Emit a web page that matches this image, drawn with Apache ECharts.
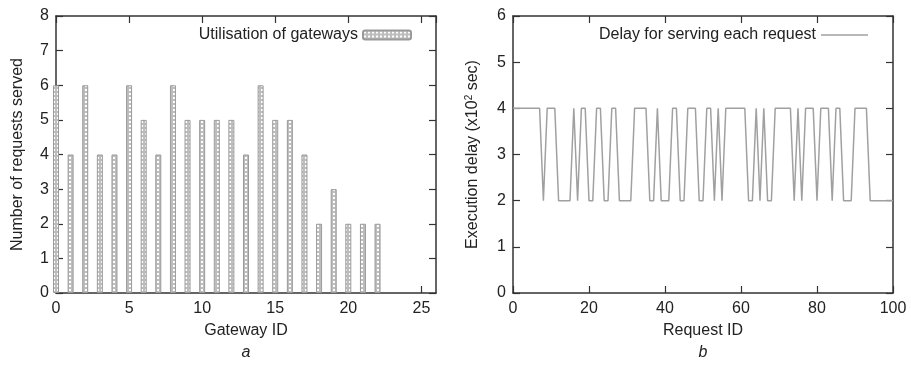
<!DOCTYPE html>
<html>
<head>
<meta charset="utf-8">
<script src="https://cdn.jsdelivr.net/npm/echarts@6/dist/echarts.min.js"></script>
<style>
  html, body { margin: 0; padding: 0; background: #fff; }
  #main { width: 911px; height: 365px; }
</style>
</head>
<body>
<div id="main"></div>
<script>
// requests served by each gateway (gateway id = index)
const gatewayRequests = [6, 4, 6, 4, 4, 6, 5, 4, 6, 5, 5, 5, 5, 4, 6, 5, 5, 4, 2, 3, 2, 2, 2];
// execution delay (x10^2 sec) for request ids 0..100
const requestDelays = [
  4, 4, 4, 4, 4, 4, 4, 4, 2, 4, 4, 4, 2, 2, 2, 2, 4, 2, 4, 4,
  2, 2, 4, 4, 2, 2, 4, 4, 2, 2, 2, 2, 4, 4, 4, 4, 2, 2, 4, 2,
  2, 2, 4, 4, 2, 2, 4, 4, 4, 2, 2, 4, 4, 2, 4, 2, 4, 4, 4, 4,
  4, 4, 2, 2, 4, 2, 4, 2, 2, 4, 4, 4, 4, 4, 2, 4, 2, 4, 4, 4,
  2, 4, 4, 4, 2, 4, 4, 2, 2, 2, 4, 4, 4, 4, 2, 2, 2, 2, 2, 2,
  2
];
const leftTicks = { min: 0, max: 26, interval: 5 };
const leftYTicks = { min: 0, max: 8, interval: 1 };
const rightTicks = { min: 0, max: 100, interval: 20 };
const rightYTicks = { min: 0, max: 6, interval: 1 };

const FONT = 'Liberation Sans';
const TXT = '#222';
const AXIS = '#333';

// little dotted fill, close to the gnuplot pattern
const pat = document.createElement('canvas');
pat.width = 4; pat.height = 4;
const pc = pat.getContext('2d');
pc.fillStyle = '#bdbdbd';
pc.fillRect(0, 0, 4, 4);
pc.fillStyle = '#fff';
pc.fillRect(1, 1, 2, 2);

function xAx(grid, r, pos, name) {
  return {
    type: 'value', gridIndex: grid, position: pos,
    min: r.min, max: r.max, interval: r.interval,
    name: name, nameLocation: 'middle', nameGap: 30,
    nameTextStyle: { fontFamily: FONT, fontSize: 16, color: TXT },
    axisLine: { show: true, onZero: false, lineStyle: { color: AXIS, width: 1.5 } },
    axisTick: { show: true, inside: true, length: 7, lineStyle: { color: AXIS, width: 1.2 } },
    axisLabel: { show: pos === 'bottom', margin: 8, showMaxLabel: r.max % r.interval === 0,
      fontFamily: FONT, fontSize: 16, color: TXT },
    splitLine: { show: false }
  };
}
function yAx(grid, r, pos, name, gap) {
  return {
    type: 'value', gridIndex: grid, position: pos,
    min: r.min, max: r.max, interval: r.interval,
    name: name, nameLocation: 'middle', nameGap: gap,
    nameTextStyle: { fontFamily: FONT, fontSize: 16, color: TXT,
      rich: { sup: { fontFamily: FONT, fontSize: 10, color: TXT, verticalAlign: 'top', padding: [0, 0, 8, 0] } } },
    axisLine: { show: true, onZero: false, lineStyle: { color: AXIS, width: 1.5 } },
    axisTick: { show: true, inside: true, length: 7, lineStyle: { color: AXIS, width: 1.2 } },
    axisLabel: { show: pos === 'left', margin: 7, fontFamily: FONT, fontSize: 16, color: TXT },
    splitLine: { show: false }
  };
}

const chart = echarts.init(document.getElementById('main'), null, { renderer: 'canvas' });
chart.setOption({
  animation: false,
  backgroundColor: '#fff',
  grid: [
    { left: 56, top: 16, width: 380, height: 277 },
    { left: 513, top: 16, width: 380, height: 277 }
  ],
  xAxis: [
    xAx(0, leftTicks, 'bottom', 'Gateway ID'),
    xAx(0, leftTicks, 'top', ''),
    xAx(1, rightTicks, 'bottom', 'Request ID'),
    xAx(1, rightTicks, 'top', '')
  ],
  yAxis: [
    yAx(0, leftYTicks, 'left', 'Number of requests served', 30),
    yAx(0, leftYTicks, 'right', '', 0),
    yAx(1, rightYTicks, 'left', 'Execution delay (x10{sup|2} sec)', 31),
    yAx(1, rightYTicks, 'right', '', 0)
  ],
  legend: [
    {
      data: ['Utilisation of gateways'], right: 494, top: 22, align: 'right',
      itemWidth: 48, itemHeight: 9, selectedMode: false,
      textStyle: { fontFamily: FONT, fontSize: 16, color: TXT }
    },
    {
      data: [{ name: 'Delay for serving each request', icon: 'rect',
        itemStyle: { color: '#a0a0a0', borderWidth: 0 } }],
      right: 38, top: 22, align: 'right',
      itemWidth: 47, itemHeight: 1.5, selectedMode: false,
      textStyle: { fontFamily: FONT, fontSize: 16, color: TXT }
    }
  ],
  graphic: [
    { type: 'text', x: 246, y: 353, style: { text: 'a', font: 'italic 16px "Liberation Sans"', fill: TXT,
      align: 'center', verticalAlign: 'middle' } },
    { type: 'text', x: 703, y: 353, style: { text: 'b', font: 'italic 16px "Liberation Sans"', fill: TXT,
      align: 'center', verticalAlign: 'middle' } }
  ],
  series: [
    {
      name: 'Utilisation of gateways', type: 'bar',
      xAxisIndex: 0, yAxisIndex: 0, barWidth: 6,
      itemStyle: { color: { image: pat, repeat: 'repeat' }, borderColor: '#9a9a9a', borderWidth: 1 },
      data: gatewayRequests.map((v, i) => [i, v])
    },
    {
      name: 'Delay for serving each request', type: 'line',
      xAxisIndex: 2, yAxisIndex: 2, symbol: 'none',
      lineStyle: { color: '#a0a0a0', width: 1.5 },
      itemStyle: { color: '#a0a0a0' },
      data: requestDelays.map((v, i) => [i, v])
    }
  ]
});
</script>
</body>
</html>
